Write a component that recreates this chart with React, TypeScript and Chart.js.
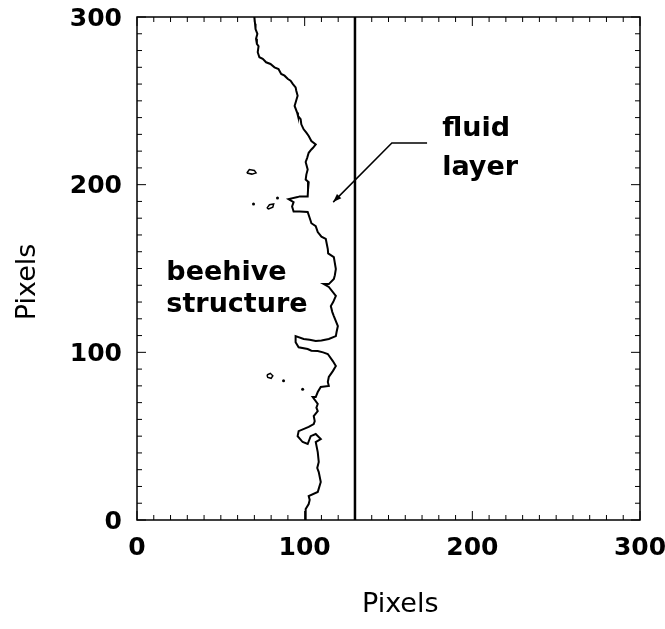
import React, { useEffect, useRef } from "react";
import { Chart, registerables } from "chart.js";

Chart.register(...registerables);

// Boundary contour (x, y in pixels of the image)
const boundaryX = [70, 70.4, 70.7, 71.8, 71, 71.5, 72.5, 72, 73, 75, 77, 79.6, 82, 84.4, 86, 88, 90, 91.6, 93, 94.6, 95, 95.8, 94.6, 94, 95.5, 96, 97.6, 98, 99.4, 101, 102.4, 104, 106.6, 105, 104, 102.4, 101.5, 100.6, 101.8, 101, 100.6, 102.4, 102, 101.8, 97, 95.8, 90.4, 93.4, 92.5, 93.4, 97, 101.8, 103.6, 104, 106.6, 107.8, 110, 112.6, 113.8, 114, 117.4, 118.6, 118, 117.4, 114.4, 111.4, 114.4, 118.6, 117, 115.6, 116.5, 117.4, 119.8, 119, 118.6, 114.4, 110, 106.6, 103, 99.4, 94.6, 94.6, 96.4, 101.8, 104, 107.8, 111, 113.8, 116.8, 118.6, 116.8, 114.4, 113.8, 114.4, 109.6, 107.8, 106.6, 104.8, 107.8, 107, 107.8, 105.4, 106, 105.4, 102.4, 96.4, 95.8, 98.8, 101.8, 103.6, 106.6, 109.6, 106.6, 107.8, 108.4, 107.5, 108.4, 109.6, 108.5, 107.8, 102.4, 103, 102.4, 100.6, 100.6];
const boundaryY = [300, 296, 292.8, 290, 287, 284, 282.6, 279, 276, 275, 273, 272, 270, 269, 266, 265, 263, 262, 260, 258, 256, 253, 249, 247, 243, 241, 239, 236, 233, 231, 229, 226, 224, 222, 221, 219, 216, 213.5, 209, 206, 203, 201.5, 197, 193, 193, 192.6, 191.4, 189.6, 187, 184, 184, 183.7, 178.3, 177, 175.3, 171.7, 169, 167.6, 161.6, 159, 156.8, 149.7, 146, 143.7, 140.7, 140.7, 139, 133.6, 130, 127.6, 124, 121.6, 115.7, 112, 109.7, 108, 107, 106.7, 107.5, 108, 109.7, 106, 103, 102, 101, 100.8, 100, 99, 94.8, 91.8, 88.8, 85.3, 82.3, 80, 79.3, 76.3, 73.3, 73.3, 69.2, 67, 65, 62, 59, 57.2, 55.5, 53, 50, 46.5, 45.3, 50, 51.3, 48.3, 46.5, 40.5, 34.6, 31, 28.6, 22.7, 19, 16.7, 14.3, 12, 9.5, 6.6, 0];

// Fluid layer edge
const layerX = [130, 130];
const layerY = [0, 300];

// Small isolated contours
const blobAX = [65.5, 67, 70, 71, 68.5, 65.5];
const blobAY = [207, 209, 208.5, 207, 206.3, 207];
const blobBX = [77.5, 79, 81.5, 81, 78.5, 77.5];
const blobBY = [186, 188, 188.5, 186.5, 185.5, 186];
const blobCX = [77.5, 79.5, 81, 80, 78, 77.5];
const blobCY = [86.5, 87.5, 86, 84.5, 85, 86.5];
const dotsX = [69.5, 83.8, 87.4, 98.8];
const dotsY = [188.4, 192, 83, 78];

const xTicks = [0, 100, 200, 300];
const yTicks = [0, 100, 200, 300];

const pts = (xs: number[], ys: number[]) => xs.map((x, i) => ({ x, y: ys[i] }));

const lineSet = (xs: number[], ys: number[], w: number) => ({
  data: pts(xs, ys),
  showLine: true,
  borderColor: "#000",
  borderWidth: w,
  pointRadius: 0,
  fill: false,
  tension: 0,
});

const overlay = {
  id: "overlay",
  afterDatasetsDraw(chart: any) {
    const { ctx, chartArea: a, scales } = chart;
    const xs = scales.x, ys = scales.y;
    ctx.save();
    ctx.strokeStyle = "#000";
    ctx.lineWidth = 1.5;
    ctx.strokeRect(a.left, a.top, a.right - a.left, a.bottom - a.top);
    ctx.lineWidth = 1;
    for (let v = 0; v <= 300; v += 10) {
      const len = v % 100 === 0 ? 9 : 5;
      const px = xs.getPixelForValue(v);
      const py = ys.getPixelForValue(v);
      ctx.beginPath();
      ctx.moveTo(px, a.bottom); ctx.lineTo(px, a.bottom - len);
      ctx.moveTo(px, a.top); ctx.lineTo(px, a.top + len);
      ctx.moveTo(a.left, py); ctx.lineTo(a.left + len, py);
      ctx.moveTo(a.right, py); ctx.lineTo(a.right - len, py);
      ctx.stroke();
    }
    // tick labels
    ctx.fillStyle = "#000";
    ctx.font = "bold 25px 'DejaVu Sans'";
    ctx.textAlign = "center";
    ctx.textBaseline = "middle";
    xTicks.forEach((v) => ctx.fillText(String(v), xs.getPixelForValue(v), a.bottom + 28));
    ctx.textAlign = "right";
    yTicks.forEach((v) => ctx.fillText(String(v), a.left - 15, ys.getPixelForValue(v) + 2));
    // arrow
    const p1x = xs.getPixelForValue(173), p1y = ys.getPixelForValue(224.8);
    const p2x = xs.getPixelForValue(152), p2y = ys.getPixelForValue(224.8);
    const p3x = xs.getPixelForValue(117), p3y = ys.getPixelForValue(189.6);
    ctx.lineWidth = 1.5;
    ctx.beginPath();
    ctx.moveTo(p1x, p1y); ctx.lineTo(p2x, p2y); ctx.lineTo(p3x, p3y);
    ctx.stroke();
    const ang = Math.atan2(p3y - p2y, p3x - p2x);
    const hl = 9;
    ctx.beginPath();
    ctx.moveTo(p3x, p3y);
    ctx.lineTo(p3x - hl * Math.cos(ang - 0.35), p3y - hl * Math.sin(ang - 0.35));
    ctx.lineTo(p3x - hl * Math.cos(ang + 0.35), p3y - hl * Math.sin(ang + 0.35));
    ctx.closePath();
    ctx.fill();
    // annotations
    ctx.font = "bold 27px 'DejaVu Sans'";
    ctx.textAlign = "left";
    ctx.textBaseline = "alphabetic";
    ctx.fillText("fluid", xs.getPixelForValue(182), ys.getPixelForValue(229));
    ctx.fillText("layer", xs.getPixelForValue(182), ys.getPixelForValue(205.7));
    ctx.fillText("beehive", xs.getPixelForValue(17.5), ys.getPixelForValue(143));
    ctx.fillText("structure", xs.getPixelForValue(17.5), ys.getPixelForValue(124));
    // axis titles
    ctx.font = "27px 'DejaVu Sans'";
    ctx.textAlign = "center";
    ctx.textBaseline = "middle";
    ctx.fillText("Pixels", xs.getPixelForValue(157), 605);
    ctx.translate(28, ys.getPixelForValue(142));
    ctx.rotate(-Math.PI / 2);
    ctx.fillText("Pixels", 0, 0);
    ctx.restore();
  },
};

export default function App() {
  const ref = useRef<HTMLCanvasElement>(null);
  useEffect(() => {
    if (!ref.current) return;
    const chart = new Chart(ref.current, {
      type: "scatter",
      data: {
        datasets: [
          lineSet(boundaryX, boundaryY, 2),
          lineSet(layerX, layerY, 2.5),
          lineSet(blobAX, blobAY, 1.5),
          lineSet(blobBX, blobBY, 1.5),
          lineSet(blobCX, blobCY, 1.5),
          { data: pts(dotsX, dotsY), showLine: false, pointRadius: 1.5, pointBackgroundColor: "#000", pointBorderWidth: 0 },
        ] as any,
      },
      options: {
        responsive: false,
        animation: false,
        layout: { padding: { top: 17, right: 25, left: 0, bottom: 0 } },
        plugins: { legend: { display: false }, tooltip: { enabled: false } },
        scales: {
          x: {
            type: "linear",
            min: 0,
            max: 300,
            afterBuildTicks: (s: any) => { s.ticks = xTicks.map((v) => ({ value: v })); },
            afterFit: (s: any) => { s.height = 109; },
            grid: { display: false, drawTicks: false },
            border: { display: false },
            ticks: { display: false },
          },
          y: {
            type: "linear",
            min: 0,
            max: 300,
            afterBuildTicks: (s: any) => { s.ticks = yTicks.map((v) => ({ value: v })); },
            afterFit: (s: any) => { s.width = 137; },
            grid: { display: false, drawTicks: false },
            border: { display: false },
            ticks: { display: false },
          },
        },
      },
      plugins: [overlay],
    });
    return () => chart.destroy();
  }, []);
  return (
    <div style={{ position: "absolute", left: 0, top: 0, width: 665, height: 629, background: "#fff" }}>
      <canvas ref={ref} width={665} height={629} />
    </div>
  );
}
